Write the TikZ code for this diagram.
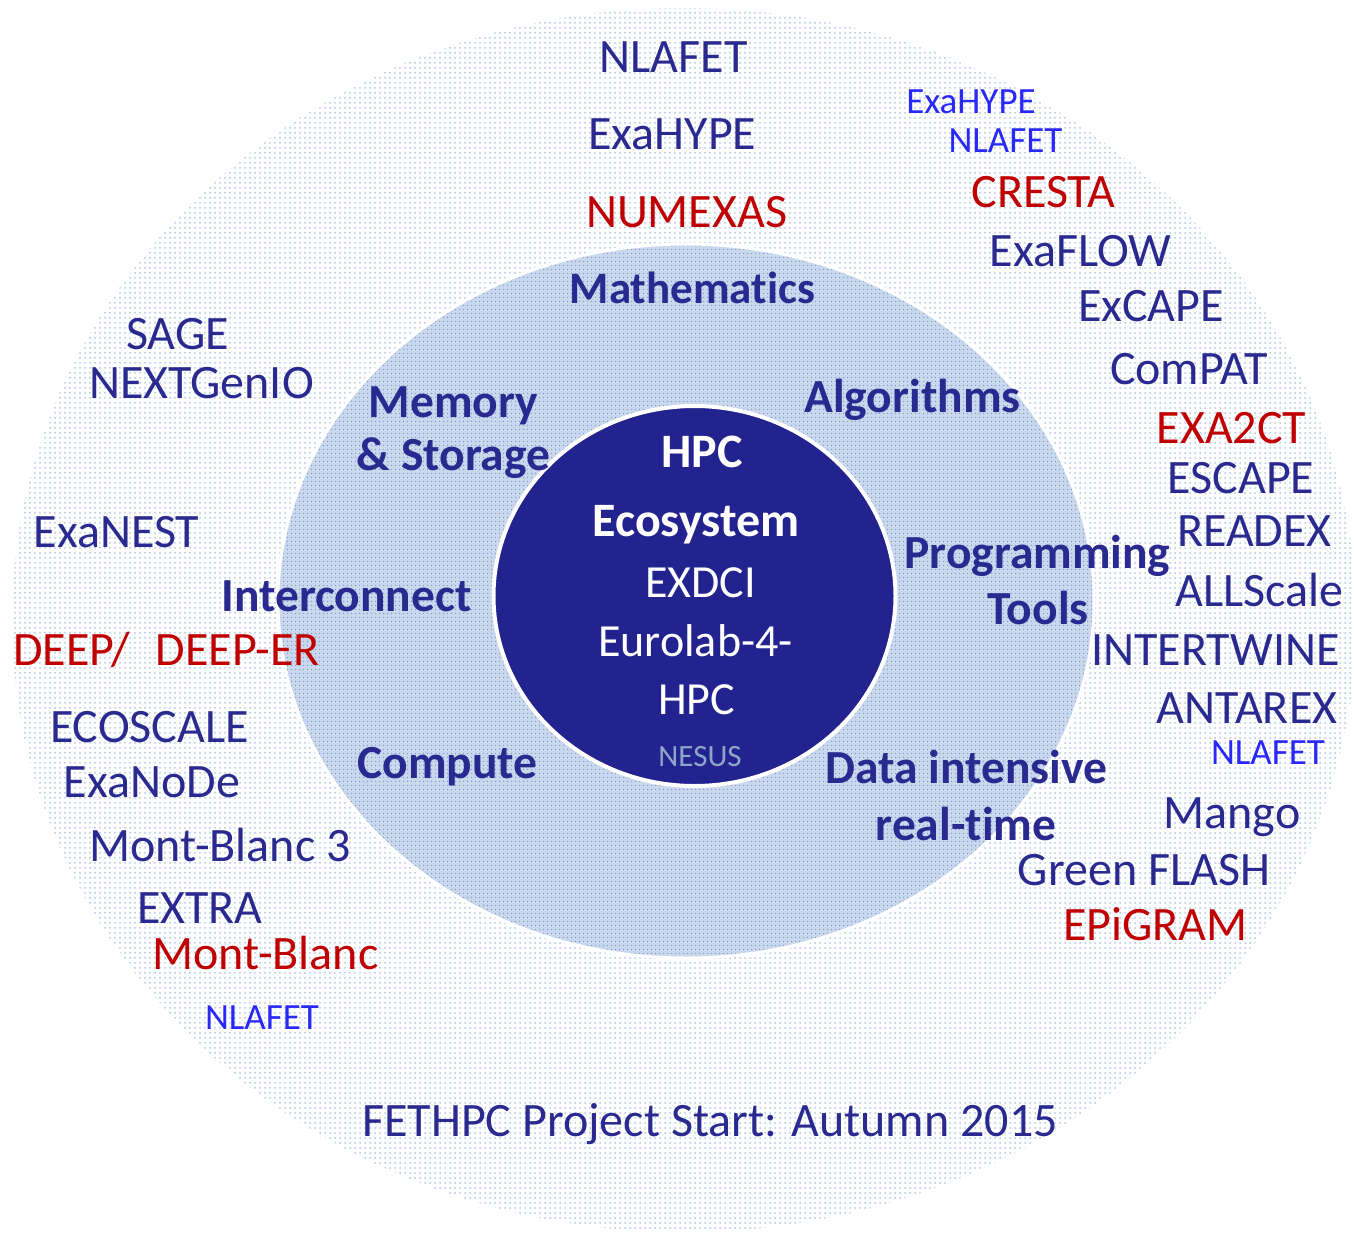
\documentclass[tikz,border=0pt]{standalone}
\usepackage{fontspec}
\setmainfont{Carlito}[Ligatures=NoCommon]
\usetikzlibrary{patterns.meta}
\definecolor{tblue}{RGB}{41,41,143}
\definecolor{navy}{RGB}{34,35,143}
\definecolor{tred}{RGB}{192,0,0}
\definecolor{bblue}{RGB}{40,40,250}
\definecolor{nesus}{RGB}{140,165,200}
\definecolor{dotout}{RGB}{178,198,228}
\definecolor{midfill}{RGB}{202,216,237}
\definecolor{dotmid}{RGB}{125,155,208}
\tikzset{
  big/.style={font=\fontsize{48}{52}\selectfont, text=tblue, inner sep=0pt, text height=30.3pt, text depth=0pt, anchor=center},
  bigred/.style={big, text=tred},
  small/.style={font=\fontsize{37}{40}\selectfont, text=bblue, inner sep=0pt, text height=23.4pt, text depth=0pt, anchor=center},
  ring/.style={font=\fontsize{47.5}{50}\selectfont\bfseries, text=tblue, inner sep=0pt, text height=30pt, text depth=0pt, anchor=center},
  innerb/.style={font=\fontsize{48}{50}\selectfont\bfseries, text=white, inner sep=0pt, text height=30.3pt, text depth=0pt, anchor=center},
  innerr/.style={font=\fontsize{46}{50}\selectfont, text=white, inner sep=0pt, text height=29pt, text depth=0pt, anchor=center},
  nes/.style={font=\fontsize{31}{34}\selectfont, text=nesus, inner sep=0pt, text height=19.6pt, text depth=0pt, anchor=center},
}
\begin{document}
\begin{tikzpicture}[x=1pt,y=-1pt]
\useasboundingbox (0,0) rectangle (1354,1233);
\clip (0,0) rectangle (1354,1233);
% outer ellipse
\path[pattern={Dots[distance=5pt,radius=1pt]}, pattern color=dotout] (684,620) ellipse [x radius=672, y radius=612];
% middle ellipse
\path[preaction={fill=midfill}, pattern={Dots[distance=4pt,radius=0.9pt]}, pattern color=dotmid] (686,601) ellipse [x radius=408, y radius=357];
\draw[white, line width=3pt] (686,601) ellipse [x radius=408, y radius=357];
% inner circle
\draw[fill=navy, draw=white, line width=4pt] (694.5,596) ellipse [x radius=201, y radius=190];

% top column
\node[big] (nlafetT) at (673.5,57) {NLAFET};
\node[big] (exahypeT) at (672.5,134) {ExaHYPE};
\node[bigred] (numexas) at (686.5,212) {NUMEXAS};

% upper right
\node[small] (exahypeR) at (971,102) {ExaHYPE};
\node[small] (nlafetR) at (1005.5,141) {NLAFET};
\node[bigred] (cresta) at (1043.5,192) {CRESTA};
\node[big] (exaflow) at (1080.5,251) {ExaFLOW};
\node[big] (excape) at (1151,306) {ExCAPE};
\node[big] (compat) at (1189,369) {ComPAT};
\node[bigred] (exa2ct) at (1231.5,428) {EXA2CT};
\node[big] (escape) at (1241,478) {ESCAPE};
\node[big] (readex) at (1254.5,531) {READEX};
\node[big] (allscale) at (1259.5,591) {ALLScale};
\node[big] (intertwine) at (1215.5,650) {INTERTWINE};
\node[big] (antarex) at (1247,708) {ANTAREX};
\node[small] (nlafetR2) at (1268,753) {NLAFET};
\node[big] (mango) at (1232,813) {Mango};
\node[big] (greenflash) at (1144,870) {Green FLASH};
\node[bigred] (epigram) at (1155.5,925) {EPiGRAM};

% left
\node[big] (sage) at (177.5,334) {SAGE};
\node[big] (nextgenio) at (201.5,383) {NEXTGenIO};
\node[big] (exanest) at (116.5,532) {ExaNEST};
\node[bigred] (deep) at (166.5,650) {DEEP/\hspace{0.3em}~DEEP-ER};
\node[big] (ecoscale) at (149.5,727) {ECOSCALE};
\node[big] (exanode) at (152,782) {ExaNoDe};
\node[big] (montblanc3) at (220,846) {Mont-Blanc 3};
\node[big] (extra) at (200,908) {EXTRA};
\node[bigred] (montblanc) at (265.5,954) {Mont-Blanc};
\node[small] (nlafetL) at (262,1018) {NLAFET};

% bottom
\node[big] (fethpc) at (710,1121) {FETHPC Project Start: Autumn 2015};

% ring labels
\node[ring, font=\fontsize{45}{50}\selectfont\bfseries] (math) at (692.5,288) {Mathematics};
\node[ring] (memory) at (453.5,402) {Memory};
\node[ring] (storage) at (453.5,455) {\& Storage};
\node[ring] (algo) at (912.5,397) {Algorithms};
\node[ring] (prog) at (1037.5,553) {Programming};
\node[ring] (tools) at (1038,609) {Tools};
\node[ring] (inter) at (346.5,596) {Interconnect};
\node[ring] (compute) at (447.5,763) {Compute};
\node[ring] (data) at (966.5,768) {Data intensive};
\node[ring] (realtime) at (966,825) {real-time};

% inner
\node[innerb] (hpc) at (702,452) {HPC};
\node[innerb] (eco) at (696,521) {Ecosystem};
\node[innerr] (exdci) at (700.5,583) {EXDCI};
\node[innerr] (eurolab) at (695.5,642) {Eurolab-4-};
\node[innerr] (hpc2) at (696.5,700) {HPC};
\node[nes] (nesusn) at (700,757) {NESUS};
\end{tikzpicture}
\end{document}
